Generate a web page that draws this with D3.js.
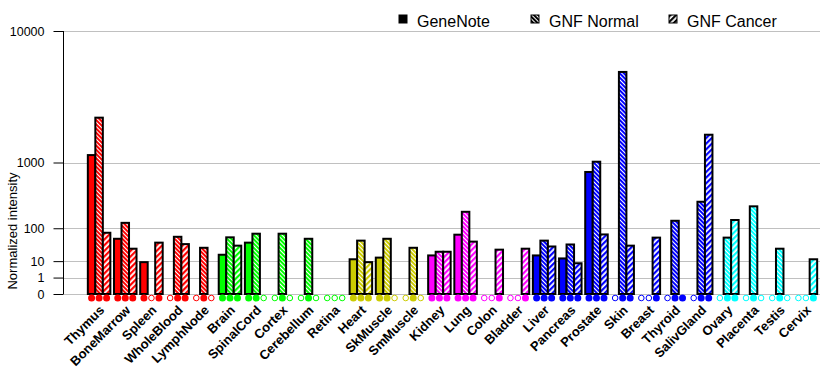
<!DOCTYPE html>
<html>
<head>
<meta charset="utf-8">
<script src="https://cdn.jsdelivr.net/npm/d3@7"></script>
<style>
  body { margin: 0; background: #fff; }
  svg { display: block; font-family: Arial, "Liberation Sans", sans-serif; }
</style>
</head>
<body>
<div id="chart"></div>
<script>
var WIDTH = 840, HEIGHT = 385
var MARGIN = {TOP: 31, RIGHT: 20, BOTTOM: 91, LEFT: 63}

// tissues and the colour group of each
var tissues = ["Thymus","BoneMarrow","Spleen","WholeBlood","LymphNode","Brain","SpinalCord","Cortex",
  "Cerebellum","Retina","Heart","SkMuscle","SmMuscle","Kidney","Lung","Colon","Bladder","Liver",
  "Pancreas","Prostate","Skin","Breast","Thyroid","SalivGland","Ovary","Placenta","Testis","Cervix"]
var tissueColors = ["#ff0000","#ff0000","#ff0000","#ff0000","#ff0000",
  "#00ff00","#00ff00","#00ff00","#00ff00","#00ff00",
  "#cccc00","#cccc00","#cccc00",
  "#ff00ff","#ff00ff","#ff00ff","#ff00ff",
  "#0000ff","#0000ff","#0000ff","#0000ff","#0000ff","#0000ff","#0000ff",
  "#00ffff","#00ffff","#00ffff","#00ffff"]

var series = ["GeneNote", "GNF Normal", "GNF Cancer"]

var geneNote  = [1200, 56, 9, 0, 0, 18, 44, 0, 0, 0, 12, 14, 0, 17, 71, 0, 0, 17, 13, 780, 0, 0, 0, 0, 0, 0, 0, 0]
var gnfNormal = [2650, 130, 0, 63, 31, 61, 75, 75, 56, 0, 50, 56, 31, 23, 210, 0, 0, 50, 39, 1020, 5700, 0, 143, 308, 60, 260, 29, 0]
var gnfCancer = [79, 29, 44, 40, 0, 36, 0, 0, 0, 0, 9, 0, 0, 23, 47, 27, 29, 34, 8, 72, 36, 60, 0, 1890, 148, 0, 0, 12]

// present calls (dots under the bars): 1 = filled, 0 = open
var presentGN = [1,1,1,0,0,1,1,0,0,0,1,1,0,1,1,0,0,1,1,1,0,0,0,0,0,0,0,0]
var presentN  = [1,1,0,1,1,1,1,1,1,0,1,1,1,1,1,0,0,1,1,1,1,0,1,1,1,1,1,0]
var presentC  = [1,1,1,1,0,1,0,0,0,0,1,0,0,1,1,1,1,1,1,1,1,1,1,1,1,0,0,1]

var yTicks = [0, 1, 10, 100, 1000, 10000]

var svg = d3.select("#chart").append("svg")
  .attr("width", WIDTH)
  .attr("height", HEIGHT)

// patterns: normal = colour with white "\" lines, cancer = white with colour "/" stripes
var defs = svg.append("defs")
function makePatterns(color, id){
  var pn = defs.append("pattern")
    .attr("id", "pn" + id)
    .attr("patternUnits", "userSpaceOnUse")
    .attr("width", 3).attr("height", 3)
    .attr("patternTransform", "rotate(-45)")
  pn.append("rect").attr("width", 3).attr("height", 3).attr("fill", color)
  pn.append("rect").attr("width", 1).attr("height", 3).attr("fill", "white")

  var pc = defs.append("pattern")
    .attr("id", "pc" + id)
    .attr("patternUnits", "userSpaceOnUse")
    .attr("width", 4).attr("height", 4)
    .attr("patternTransform", "rotate(45)")
  pc.append("rect").attr("width", 4).attr("height", 4).attr("fill", "white")
  pc.append("rect").attr("width", 2.2).attr("height", 4).attr("fill", color)
}
var colorList = Array.from(new Set(tissueColors))
colorList.forEach(function(c, i){ makePatterns(c, i) })
makePatterns("#000000", "k")

function fillFor(series_i, color){
  var id = colorList.indexOf(color)
  if (series_i == 0) return color
  if (series_i == 1) return "url(#pn" + id + ")"
  return "url(#pc" + id + ")"
}

var y = d3.scalePow()
  .exponent(Math.log10(2))
  .domain([0, 10000])
  .range([294, MARGIN.TOP])

var x0 = d3.scaleBand()
  .domain(tissues)
  .range([86, 819])
  .paddingInner(0.14)
  .paddingOuter(0.07)

var x1 = d3.scaleBand()
  .domain(series)
  .range([0, x0.bandwidth()])

// grid lines
svg.append("g")
  .selectAll("line")
  .data(yTicks)
  .enter()
  .append("line")
    .attr("x1", MARGIN.LEFT)
    .attr("x2", WIDTH - MARGIN.RIGHT)
    .attr("y1", function(d){ return Math.round(y(d)) + 0.5 })
    .attr("y2", function(d){ return Math.round(y(d)) + 0.5 })
    .style("stroke", "#c0c0c0")
    .style("stroke-width", 1)

// y axis
var yAxis = svg.append("g")
  .attr("transform", "translate(" + (MARGIN.LEFT + 0.5) + ",0)")
  .call(d3.axisLeft(y).tickValues(yTicks).tickSize(10).tickPadding(9).tickFormat(d3.format("d")))
yAxis.select(".domain").attr("d", "M0," + y(10000) + "V" + y(0)).style("stroke", "black")
yAxis.selectAll(".tick line").style("stroke", "black")
yAxis.selectAll("text")
  .style("font-size", "12.5px")
  .style("font-family", "Arial, 'Liberation Sans', sans-serif")
  .style("fill", "black")

svg.append("text")
  .attr("transform", "translate(17,231) rotate(-90)")
  .attr("text-anchor", "middle")
  .style("font-size", "13px")
  .text("Normalized intensity")

// bars
var rows = tissues.map(function(t, i){
  return {tissue: t, color: tissueColors[i],
    values: [geneNote[i], gnfNormal[i], gnfCancer[i]],
    present: [presentGN[i], presentN[i], presentC[i]]}
})

var groups = svg.append("g")
  .selectAll("g")
  .data(rows)
  .enter()
  .append("g")
    .attr("transform", function(d){ return "translate(" + x0(d.tissue) + ",0)" })

groups.selectAll("rect")
  .data(function(d){ return d.values.map(function(v, i){ return {s: i, v: v, color: d.color} }) })
  .enter()
  .append("rect")
    .attr("x", function(d){ return x1(series[d.s]) })
    .attr("y", function(d){ return y(d.v) })
    .attr("width", x1.bandwidth())
    .attr("height", function(d){ return y(0) - y(d.v) })
    .style("fill", function(d){ return fillFor(d.s, d.color) })
    .style("stroke", "black")
    .style("stroke-width", 2)

groups.selectAll("circle")
  .data(function(d){ return d.present.map(function(p, i){ return {s: i, p: p, color: d.color} }) })
  .enter()
  .append("circle")
    .attr("cx", function(d){ return x1(series[d.s]) + x1.bandwidth() / 2 })
    .attr("cy", 298)
    .attr("r", function(d){ return d.p ? 3.5 : 2.8 })
    .style("fill", function(d){ return d.p ? d.color : "white" })
    .style("stroke", function(d){ return d.color })
    .style("stroke-width", function(d){ return d.p ? 0 : 1 })

// tissue labels
groups.append("text")
  .attr("transform", function(d){ return "translate(" + (x0.bandwidth() / 2 + 6) + ",311) rotate(-45)" })
  .attr("text-anchor", "end")
  .style("font-size", "13px")
  .style("font-weight", "bold")
  .text(function(d){ return d.tissue })

// legend
var legendX = [399, 531, 669]
var legend = svg.append("g")
  .selectAll("g")
  .data(series)
  .enter()
  .append("g")
    .attr("transform", function(d, i){ return "translate(" + legendX[i] + ",15)" })

legend.append("rect")
  .attr("width", 8)
  .attr("height", 8)
  .style("fill", function(d, i){ return i == 0 ? "black" : (i == 1 ? "url(#pnk)" : "url(#pck)") })
  .style("stroke", "black")
  .style("stroke-width", 1)

legend.append("text")
  .attr("x", 18)
  .attr("y", 11.5)
  .style("font-size", "16px")
  .text(function(d){ return d })
</script>
</body>
</html>
